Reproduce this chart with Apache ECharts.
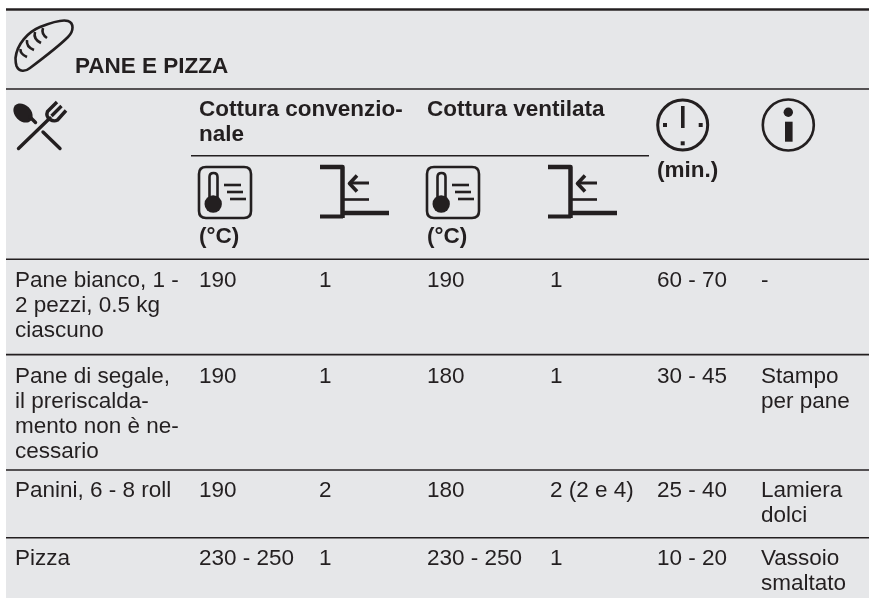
<!DOCTYPE html>
<html lang="it">
<head>
<meta charset="UTF-8">
<title>Pane e pizza</title>
<script src="https://cdn.jsdelivr.net/npm/echarts@6/dist/echarts.min.js"></script>
<style>
  html, body { margin: 0; padding: 0; background: #fff; }
  #chart { width: 869px; height: 598px; }
</style>
</head>
<body>
<div id="chart"></div>
<script>
// table content
var title = 'PANE E PIZZA';
var headConv = 'Cottura convenzio-\nnale';
var headFan = 'Cottura ventilata';
var unitTemp = '(°C)';
var unitTime = '(min.)';
var dishes = [
  'Pane bianco, 1 -\n2 pezzi, 0.5 kg\nciascuno',
  'Pane di segale,\nil preriscalda-\nmento non è ne-\ncessario',
  'Panini, 6 - 8 roll',
  'Pizza'
];
var tempConv = ['190', '190', '190', '230 - 250'];
var shelfConv = ['1', '1', '2', '1'];
var tempFan = ['190', '180', '180', '230 - 250'];
var shelfFan = ['1', '1', '2 (2 e 4)', '1'];
var minutes = ['60 - 70', '30 - 45', '25 - 40', '10 - 20'];
var notes = ['-', 'Stampo\nper pane', 'Lamiera\ndolci', 'Vassoio\nsmaltato'];

// layout
var INK = '#231f20';
var BG = '#e6e7e9';
var FONT = '"Liberation Sans", Arial, sans-serif';
var LINE_H = 25;
var colX = [15, 199, 319, 427, 550, 657, 761];
var rowBase = [287, 383, 497, 565];
var rules = [
  [6, 9.5, 869, 2.6],
  [6, 89, 869, 1.6],
  [191, 155.7, 649, 1.6],
  [6, 259.3, 869, 1.6],
  [6, 354.6, 869, 1.6],
  [6, 470, 869, 1.6],
  [6, 537.7, 869, 1.6]
];

var graphics = [
  { type: 'rect', z: -5, shape: { x: 6, y: 11, width: 863, height: 587 }, style: { fill: BG } }
];
rules.forEach(function (r) {
  graphics.push({
    type: 'line', z: 1,
    shape: { x1: r[0], y1: r[1], x2: r[2], y2: r[1] },
    style: { stroke: INK, lineWidth: r[3] }
  });
});

// every line of a cell is its own text, baseline sits 6px below the middle
function addText(str, x, base, bold) {
  str.split('\n').forEach(function (line, i) {
    graphics.push({
      type: 'text', z: 5, x: x, y: base + i * LINE_H - 6,
      style: {
        text: line, fill: INK,
        font: (bold ? 'bold ' : '') + '22.5px ' + FONT,
        textAlign: 'left', textVerticalAlign: 'middle'
      }
    });
  });
}
addText(title, 75, 73, true);
addText(headConv, colX[1], 116, true);
addText(headFan, colX[3], 116, true);
addText(unitTemp, colX[1], 243, true);
addText(unitTemp, colX[3], 243, true);
addText(unitTime, colX[5], 177, true);
[dishes, tempConv, shelfConv, tempFan, shelfFan, minutes, notes].forEach(function (col, c) {
  col.forEach(function (cell, r) {
    addText(cell, colX[c], rowBase[r], false);
  });
});

// icons, page coordinates
function line(d, w) {
  return { type: 'path', shape: { pathData: d }, style: { fill: null, stroke: INK, lineWidth: w, lineCap: 'butt', lineJoin: 'round' } };
}
function round(d, w) {
  var p = line(d, w);
  p.style.lineCap = 'round';
  return p;
}
function solid(d) {
  return { type: 'path', shape: { pathData: d }, style: { fill: INK } };
}
function thermo(dx) {
  return {
    type: 'group', x: dx, children: [
      line('M206 167 H244 Q251 167 251 174 V211 Q251 218 244 218 H206 Q199 218 199 211 V174 Q199 167 206 167 Z', 2.6),
      line('M209.5 198 V177 Q209.5 173 213.5 173 Q217.5 173 217.5 177 V198', 2.6),
      solid('M204.5 204 A8.7 8.7 0 1 0 221.9 204 A8.7 8.7 0 1 0 204.5 204 Z'),
      line('M224 185 H241', 2.6),
      line('M227 192 H243', 2.6),
      line('M230 199 H246', 2.6)
    ]
  };
}
function shelf(dx) {
  return {
    type: 'group', x: dx, children: [
      line('M320 167 H342.5 V218', 4.5),
      line('M320 216.5 H343', 4),
      line('M343 213 H389', 4.5),
      line('M343 199.5 H369', 2.6),
      line('M350 183 H369', 3),
      line('M357 175.5 L349.5 183.5 L357 191.5', 3.6)
    ]
  };
}
var icons = [
  { // bread
    type: 'group', children: [
      line('M15.5 58 C17 44 28 32 40 27 C50 23 62 19 68 21 C74 23 74 31 68 37 C58 47 42 59 30 68 C25 72 19 72 16.5 66 C15.5 63 15.5 60 15.5 58 Z', 2.6),
      line('M43 28 Q41 34 47 38', 2.6),
      line('M35 32 Q33 39 41 43', 2.6),
      line('M27 40 Q26 47 34 50', 2.6),
      line('M20.5 49 Q20 54 27 57', 2.6)
    ]
  },
  { // spoon and fork
    type: 'group', children: [
      { type: 'ellipse', rotation: -Math.PI / 4, x: 23, y: 113, shape: { cx: 0, cy: 0, rx: 11, ry: 8 }, style: { fill: INK } },
      round('M30 117 L35.5 122.5', 3.4),
      round('M43 132 L60 148.5', 3.4),
      round('M18.5 148.5 L50 118', 3.4),
      line('M57 102 L47.5 111.5 Q45.5 116.5 50 119.5 Q54 122 57.5 120 L66 110.5', 3.4),
      line('M61.5 106 L51.5 116', 3.4)
    ]
  },
  thermo(0), shelf(0), thermo(228), shelf(228),
  { // clock
    type: 'group', children: [
      { type: 'circle', shape: { cx: 682.7, cy: 125, r: 25 }, style: { fill: null, stroke: INK, lineWidth: 3 } },
      solid('M681 106 H684.6 V128 H681 Z'),
      solid('M663 123 H667 V127 H663 Z'),
      solid('M698.7 123 H702.7 V127 H698.7 Z'),
      solid('M680.7 141.3 H684.7 V145.3 H680.7 Z')
    ]
  },
  { // info
    type: 'group', children: [
      { type: 'circle', shape: { cx: 788.3, cy: 125, r: 25.5 }, style: { fill: null, stroke: INK, lineWidth: 2.6 } },
      { type: 'circle', shape: { cx: 788.3, cy: 112.3, r: 4.7 }, style: { fill: INK } },
      solid('M785 121.7 H792.6 V141.7 H785 Z')
    ]
  }
];

var chart = echarts.init(document.getElementById('chart'));
chart.setOption({
  animation: false,
  backgroundColor: '#fff',
  graphic: graphics,
  series: [{
    type: 'custom',
    coordinateSystem: 'none',
    silent: true,
    z: 10,
    data: icons.map(function (_, i) { return [i]; }),
    renderItem: function (params) {
      return icons[params.dataIndex];
    }
  }]
});
</script>
</body>
</html>
